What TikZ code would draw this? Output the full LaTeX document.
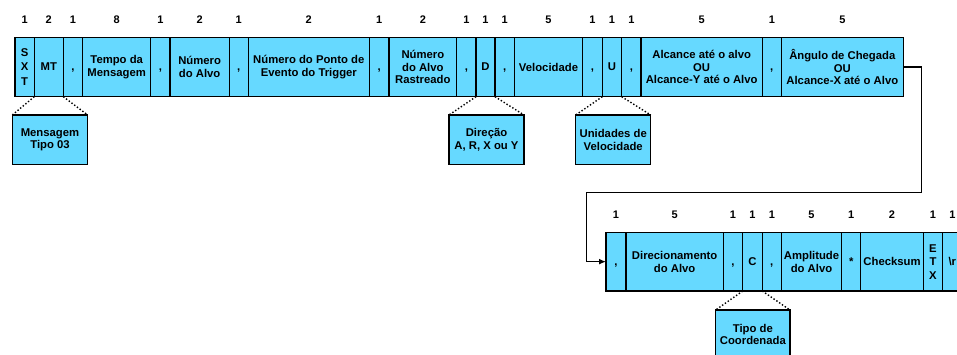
\documentclass[tikz,border=0pt]{standalone}
\usepackage{fontspec}
\setmainfont{Liberation Sans}
\usetikzlibrary{arrows.meta}
\definecolor{fieldblue}{RGB}{102,217,255}
\tikzset{
  field/.style={draw=black, line width=1.4pt, fill=fieldblue, inner sep=0pt, outer sep=0pt,
    align=center, anchor=north west, font=\fontsize{11.3}{12.7}\selectfont\bfseries},
  count/.style={inner sep=0pt, font=\fontsize{11}{12}\selectfont\bfseries},
  callout/.style={line width=1.4pt, dotted},
  link/.style={line width=1.4pt, -{Latex[length=7pt,width=6pt]}}
}
% field box: name, left, right, top, height, text, byte count
\newcommand\fieldbox[7]{%
  \node[field, minimum width={(#3-#2)*1pt}, minimum height=#5pt] (#1) at (#2,#4) {#6};
  \path (#1.north) ++(0,18) node[count] (#1-n) {#7};
}
% annotation box: name, left, right, top, height, text
\newcommand\notebox[6]{%
  \node[field, minimum width={(#3-#2)*1pt}, minimum height=#5pt] (#1) at (#2,#4) {#6};
}
% separator comma, set on the baseline of capital letters
\newcommand\sepcomma{\vphantom{M}\smash{,}}
% letters stacked one over the other
\newcommand\stackletters[4]{\vbox{\fontsize{11.3}{#1}\selectfont\bfseries\halign{\hfil##\hfil\cr #2\cr #3\cr #4\cr}}}
\begin{document}
\begin{tikzpicture}[x=1pt,y=1pt]
\useasboundingbox (0,0) rectangle (957,354);

% first line of the sentence
\def\ta{316.7}\def\ha{59.4}
\fieldbox{sxt}{15}{34.3}{\ta}{\ha}{\stackletters{14.5}{S}{X}{T}}{1}
\fieldbox{mt}{34.3}{63.3}{\ta}{\ha}{MT}{2}
\fieldbox{c1}{63.3}{82.7}{\ta}{\ha}{\sepcomma}{1}
\fieldbox{tempo}{82.7}{150.7}{\ta}{\ha}{Tempo da\\Mensagem}{8}
\fieldbox{c2}{150.7}{170}{\ta}{\ha}{\sepcomma}{1}
\fieldbox{alvo}{170}{229.3}{\ta}{\ha}{Número\\do Alvo}{2}
\fieldbox{c3}{229.3}{248.3}{\ta}{\ha}{\sepcomma}{1}
\fieldbox{ponto}{248.3}{369.3}{\ta}{\ha}{Número do Ponto de\\Evento do Trigger}{2}
\fieldbox{c4}{369.3}{389}{\ta}{\ha}{\sepcomma}{1}
\fieldbox{rast}{389}{456.7}{\ta}{\ha}{Número\\do Alvo\\Rastreado}{2}
\fieldbox{c5}{456.7}{476}{\ta}{\ha}{\sepcomma}{1}
\fieldbox{d}{476}{495}{\ta}{\ha}{D}{1}
\fieldbox{c6}{495}{514.3}{\ta}{\ha}{\sepcomma}{1}
\fieldbox{vel}{514.3}{582.7}{\ta}{\ha}{Velocidade}{5}
\fieldbox{c7}{582.7}{602.3}{\ta}{\ha}{\sepcomma}{1}
\fieldbox{u}{602.3}{621.7}{\ta}{\ha}{U}{1}
\fieldbox{c8}{621.7}{641}{\ta}{\ha}{\sepcomma}{1}
\fieldbox{alc}{641}{762.3}{\ta}{\ha}{Alcance até o alvo\\OU\\Alcance-Y até o Alvo}{5}
\fieldbox{c9}{762.3}{781.3}{\ta}{\ha}{\sepcomma}{1}
\fieldbox{ang}{781.3}{903.3}{\ta}{\ha}{Ângulo de Chegada\\OU\\Alcance-X até o Alvo}{5}

% second line of the sentence
\def\tb{121.7}\def\hb{58.7}
\fieldbox{b1}{606}{626}{\tb}{\hb}{\sepcomma}{1}
\fieldbox{dir}{626}{723.3}{\tb}{\hb}{Direcionamento\\do Alvo}{5}
\fieldbox{b2}{723.3}{742.7}{\tb}{\hb}{\sepcomma}{1}
\fieldbox{cc}{742.7}{762.3}{\tb}{\hb}{C}{1}
\fieldbox{b3}{762.3}{781.3}{\tb}{\hb}{\sepcomma}{1}
\fieldbox{amp}{781.3}{841.7}{\tb}{\hb}{Amplitude\\do Alvo}{5}
\fieldbox{star}{841.7}{860.7}{\tb}{\hb}{*}{1}
\fieldbox{chk}{860.7}{923.3}{\tb}{\hb}{Checksum}{2}
\fieldbox{etx}{923.3}{942.7}{\tb}{\hb}{\stackletters{13.5}{E}{T}{X}}{1}
\fieldbox{cr}{942.7}{962}{\tb}{\hb}{\textbackslash r}{1}

% annotations of single fields
\notebox{msg}{12.3}{87.7}{239}{49.3}{Mensagem\\Tipo 03}
\notebox{dirn}{449}{524}{239}{49.3}{Direção\\A, R, X ou Y}
\notebox{unid}{575.7}{650.7}{239}{49.3}{Unidades de\\Velocidade}
\notebox{coord}{715.7}{790}{44}{49}{Tipo de\\Coordenada}

\draw[callout] (mt.south west) -- (msg.north west);
\draw[callout] (mt.south east) -- (msg.north east);
\draw[callout] (d.south west) -- (dirn.north west);
\draw[callout] (d.south east) -- (dirn.north east);
\draw[callout] (u.south west) -- (unid.north west);
\draw[callout] (u.south east) -- (unid.north east);
\draw[callout] (cc.south west) -- (coord.north west);
\draw[callout] (cc.south east) -- (coord.north east);

% continuation from the first line to the second
\coordinate (r1) at (921.7,161.3);
\coordinate (r2) at (586.7,161.3);
\draw[link] (ang.east) -| (r1) -- (r2) |- (b1.west);
\end{tikzpicture}
\end{document}
